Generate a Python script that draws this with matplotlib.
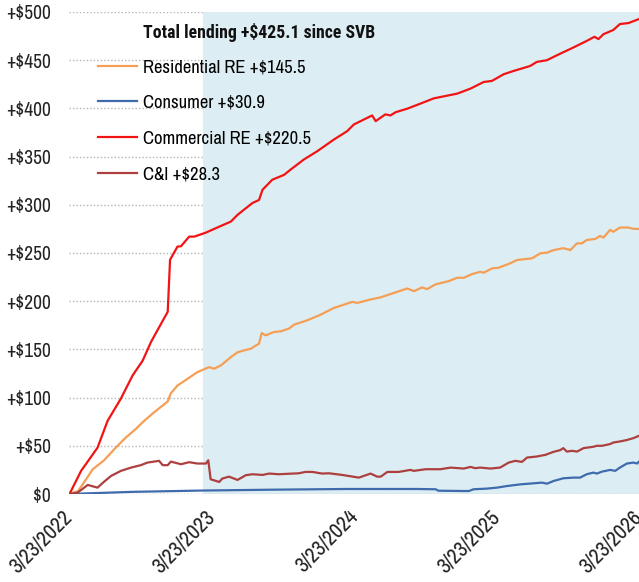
import matplotlib
matplotlib.use("Agg")
from matplotlib import pyplot as plt
import pandas as pd

plt.rcParams['font.family'] = ['Archivo Narrow', 'Roboto Condensed', 'DejaVu Sans']

start = pd.Timestamp('2022-03-23')
svb = pd.Timestamp('2023-03-01')

# days since 3/23/2022, cumulative change in $bn
cre_day = [0, 3, 31, 73, 99, 133, 163, 189, 210, 231, 253, 259, 278, 287, 308, 321, 350, 389,
           415, 432, 470, 487, 496, 521, 551, 568, 602, 636, 679, 713, 730, 777, 786, 811, 824,
           837, 867, 901, 935, 995, 1029, 1063, 1084, 1114, 1140, 1182, 1199, 1225, 1250, 1293,
           1327, 1347, 1357, 1370, 1395, 1412, 1434, 1461]
cre_val = [0, 1.4, 24, 48, 76, 99, 123, 138.5, 157.6, 173, 189, 243, 256.6, 257, 267, 267, 271, 278,
           282.6, 289.6, 301.8, 305, 315.6, 326, 331, 336.5, 347, 355.5, 367.7, 376.4, 383.3, 392.7,
           386.8, 393.8, 392.7, 396, 399.7, 405, 410.4, 415.3, 420.5, 427.4, 428.5, 435.4, 438.9,
           444, 448.2, 450, 455, 463.2, 470, 474.3, 471.9, 477, 481.3, 487.5, 488.5, 492.7]

rre_day = [0, 23, 35, 61, 90, 120, 146, 171, 193, 218, 253, 261, 278, 304, 329, 359, 372, 389,
           415, 432, 449, 466, 487, 494, 504, 525, 543, 564, 577, 611, 645, 679, 726, 739, 773,
           798, 841, 867, 884, 905, 918, 939, 973, 995, 1012, 1033, 1054, 1063, 1084, 1101, 1131,
           1148, 1187, 1208, 1225, 1242, 1267, 1285, 1302, 1315, 1327, 1349, 1361, 1370, 1387,
           1395, 1412, 1434, 1447, 1461]
rre_val = [0, 3, 10, 25.7, 35, 48.2, 58.7, 67.4, 76, 84.7, 96, 104.5, 112.5, 119.5, 126.4, 131.6,
           130, 133.3, 142, 147, 149, 150.7, 156, 167, 164.6, 168, 168.8, 171.6, 175.7, 180.2, 186,
           193, 199.3, 198.2, 201.8, 203.9, 209.7, 213.2, 210.4, 214.3, 212.5, 217.4, 220.8, 224.3,
           224.3, 228.1, 230.5, 229.5, 234, 234.7, 239.3, 242.7, 244.5, 249.7, 250.3, 253, 255, 253,
           260, 260, 263.5, 264.6, 267.7, 266, 274, 272, 276.4, 276.4, 275, 275]

ci_day = [0, 22, 48, 73, 90, 108, 133, 159, 184, 201, 231, 240, 253, 261, 287, 308, 329, 351, 357,
          363, 385, 393, 410, 432, 453, 470, 496, 513, 538, 589, 606, 624, 649, 666, 700, 743, 773,
          790, 799, 816, 845, 875, 884, 914, 952, 978, 1012, 1029, 1041, 1054, 1080, 1105, 1127,
          1144, 1161, 1174, 1199, 1221, 1242, 1259, 1267, 1276, 1289, 1302, 1319, 1344, 1353, 1366,
          1387, 1395, 1412, 1430, 1447, 1461]
ci_val = [0, 1.4, 9.4, 6.6, 12.8, 18.8, 24, 27.4, 29.9, 32.6, 34.4, 29.9, 29.9, 33.6, 30.9, 33,
          31.6, 31.6, 35, 15.3, 12.5, 16, 18, 14.6, 19.5, 20.5, 19.8, 21.2, 20.5, 21.5, 22.9, 22.9,
          21.2, 21.5, 19.8, 17, 21.2, 18, 18, 22.9, 22.9, 25, 24, 25.7, 25.7, 27.4, 26.4, 28.1,
          26.8, 27.4, 26.4, 27.4, 32.6, 34.4, 33.3, 37.8, 38.9, 40.6, 43.75, 45.5, 47.6, 44, 44.8,
          44, 47.6, 49, 50, 50, 51.8, 53.4, 54.5, 56, 58, 60.4]

con_day = [0, 160, 343, 527, 710, 894, 940, 947, 1012, 1025, 1037, 1071, 1097, 1123, 1157, 1191,
           1212, 1225, 1242, 1267, 1293, 1310, 1327, 1344, 1353, 1366, 1387, 1400, 1412, 1430,
           1447, 1456, 1461]
con_val = [0, 2.2, 3.6, 4.5, 5.2, 5.2, 4.9, 3.4, 3.1, 3.1, 4.9, 5.6, 6.6, 8.3, 10, 11.1, 11.8,
           10.7, 13.5, 16.3, 17, 17, 20.5, 22.2, 21.2, 23.2, 25, 24, 27.4, 31.6, 32.6, 31.6, 33.6]

series = [
    ("Residential RE +$145.5", rre_day, rre_val, '#F59E55'),
    ("Consumer +$30.9", con_day, con_val, '#3F6BAD'),
    ("Commercial RE +$220.5", cre_day, cre_val, '#F21414'),
    ("C&I +$28.3", ci_day, ci_val, '#AE3F3F'),
]

tick_dates = ['2022-03-23', '2023-03-23', '2024-03-23', '2025-03-23', '2026-03-23']
y_ticks = [0, 50, 100, 150, 200, 250, 300, 350, 400, 450, 500]

fig = plt.figure(figsize=(6.39, 5.82), dpi=100)
ax = fig.add_axes([0.108, 0.1512, 0.892, 0.8282])

for label, days, vals, color in series:
    x = start + pd.to_timedelta(days, unit='D')
    ax.plot(x, vals, color=color, lw=1.6, label=label, zorder=4)

ax.axvspan(svb, pd.Timestamp(tick_dates[-1]), color='#DCEEF3', zorder=2, lw=0)
ax.axhline(0, color='#b5b5b5', lw=1, linestyle=(0, (1, 1.5)), zorder=3)

ax.set_xlim(start, pd.Timestamp(tick_dates[-1]))
ax.set_ylim(0, 500)
ax.set_yticks(y_ticks)
ax.set_yticklabels(['$0'] + ['+$%d' % v for v in y_ticks[1:]])
ax.set_xticks(pd.to_datetime(tick_dates))
ax.set_xticklabels([pd.Timestamp(d).strftime('%-m/%d/%Y') for d in tick_dates])
plt.setp(ax.get_xticklabels(), rotation=45, ha='right', va='center', rotation_mode='anchor',
         fontsize=15.5)
ax.tick_params(axis='y', length=0, labelsize=14, colors='#222222', pad=13)
ax.tick_params(axis='x', length=0, colors='#222222', pad=14)
ax.grid(axis='y', color='#b5b5b5', lw=1, linestyle=(0, (1, 1.5)), zorder=1)
ax.set_axisbelow(True)
for s in ax.spines.values():
    s.set_visible(False)

ax.legend(loc='upper left', bbox_to_anchor=(0.154, 0.898), bbox_transform=fig.transFigure,
          frameon=False, fontsize=13.4, handlelength=2.1, handletextpad=0.3, labelspacing=1.05,
          borderpad=0, borderaxespad=0)
fig.text(0.224, 0.945, "Total lending +$425.1 since SVB", fontsize=12.8, fontweight='bold',
         family=['Roboto Condensed', 'DejaVu Sans'], va='center', ha='left', color='#111111')

fig.savefig('out.png', dpi=100)
